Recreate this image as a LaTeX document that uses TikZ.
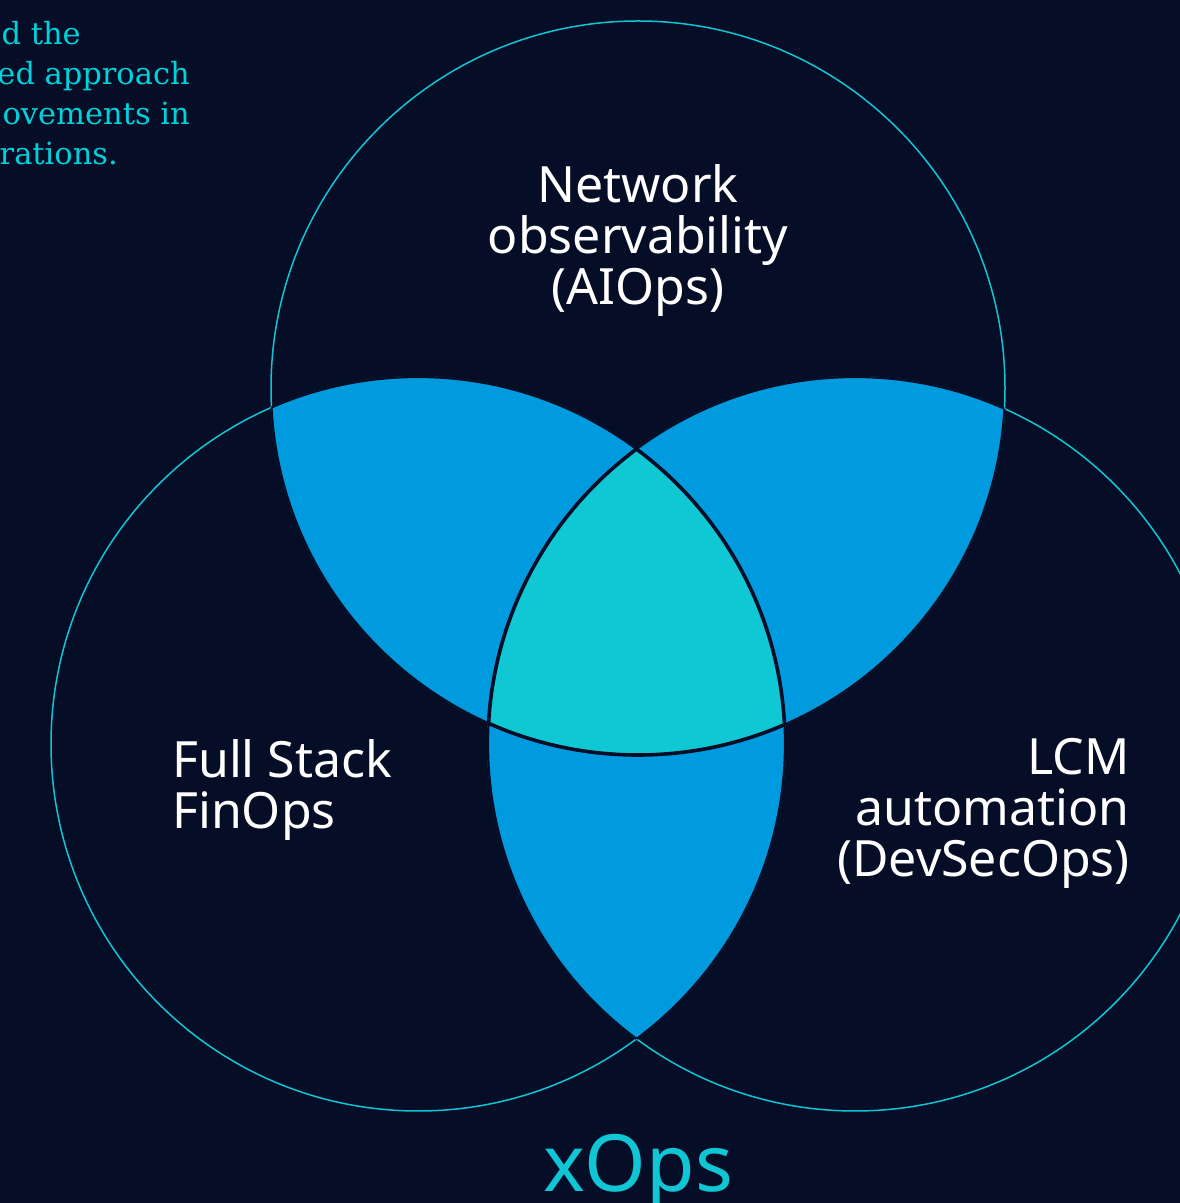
\documentclass[tikz,border=0pt]{standalone}
\usepackage{fontspec}
\setmainfont{Noto Sans}
\newfontfamily\introfont{DejaVu Serif}
\definecolor{bg}{HTML}{060D26}
\definecolor{ring}{HTML}{10C5D4}
\definecolor{lensblue}{HTML}{009BDE}
\definecolor{core}{HTML}{0FC8D4}
\definecolor{introcyan}{HTML}{00D2DC}
\tikzset{
  ringline/.style={draw=ring, line width=1.5},
  edgeline/.style={draw=bg, line width=2.2},
  coreline/.style={draw=bg, line width=3.6},
  label/.style={text=white, inner sep=0, font=\fontsize{50}{51}\selectfont},
  introline/.style={text=introcyan, inner sep=0, anchor=base east, font=\introfont\fontsize{30.5}{40}\selectfont},
}
\begin{document}
\begin{tikzpicture}[x=1pt,y=1pt]
\fill[bg] (0,0) rectangle (1180,1203);
\useasboundingbox (0,0) rectangle (1180,1203);
\def\rad{367}
\coordinate (T) at (638,815);
\coordinate (L) at (418,459);
\coordinate (R) at (855,459);
% circle outlines
\foreach \c in {T,L,R} { \path[ringline] (\c) circle (\rad); }
% pairwise lenses
\begin{scope}
  \clip (T) circle (\rad);
  \fill[lensblue] (L) circle (\rad);
  \fill[lensblue] (R) circle (\rad);
\end{scope}
\begin{scope}
  \clip (L) circle (\rad);
  \fill[lensblue] (R) circle (\rad);
\end{scope}
% triple intersection
\begin{scope}
  \clip (T) circle (\rad);
  \clip (L) circle (\rad);
  \fill[core] (R) circle (\rad);
\end{scope}
% lens edges
\foreach \a/\b in {T/L,T/R,L/T,L/R,R/T,R/L} {
  \begin{scope}
    \clip (\a) circle (\rad);
    \path[edgeline] (\b) circle (\rad);
  \end{scope}
}
% core edges
\foreach \a/\b/\c in {T/L/R,T/R/L,L/R/T} {
  \begin{scope}
    \clip (\a) circle (\rad);
    \clip (\b) circle (\rad);
    \path[coreline] (\c) circle (\rad);
  \end{scope}
}
% labels
\node[label, align=center, anchor=north] (aiops) at (638,1039) {Network\\observability\\(AIOps)};
\node[label, align=left, anchor=north west] (finops) at (172,463.5) {Full Stack\\FinOps};
\node[label, align=right, anchor=north east] (lcm) at (1130,465) {LCM\\automation\\(DevSecOps)};
\node[text=ring, inner sep=0, anchor=base, font=\fontsize{79}{80}\selectfont] (xops) at (638,11) {xOps};
% cut-off intro text
\node[introline] (intro1) at (81,1158) {d the};
\node[introline] (intro2) at (190,1118) {ed approach};
\node[introline] (intro3) at (190,1078) {ovements in};
\node[introline] (intro4) at (118,1038) {rations.};
\end{tikzpicture}
\end{document}
